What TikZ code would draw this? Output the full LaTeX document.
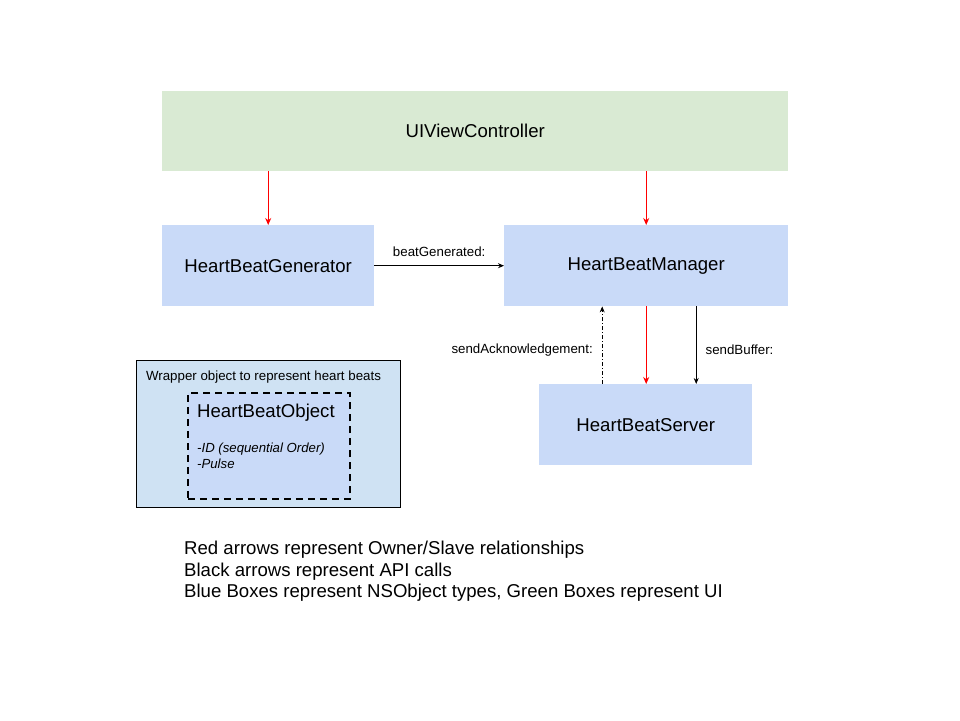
\documentclass[tikz,border=0pt]{standalone}
\usepackage{fontspec}
\setmainfont{Liberation Sans}
\usetikzlibrary{arrows.meta,calc}
\definecolor{uigreen}{HTML}{D9EAD3}
\definecolor{objblue}{HTML}{C9DAF8}
\definecolor{wrapblue}{HTML}{CFE2F3}
\definecolor{ownred}{HTML}{FF0000}
\tikzstyle{objbox} = [
    fill=objblue,
    rectangle,
    anchor=north west,
    inner sep=0pt,
    minimum width=212pt,
    minimum height=81pt,
    font=\fontsize{18.6}{22}\selectfont
    ]
\tikzstyle{owner} = [
    draw=ownred,
    line width=1pt,
    -{Stealth[length=7pt,width=6pt]}
    ]
\tikzstyle{apicall} = [
    draw=black,
    line width=0.9pt,
    -{Stealth[length=6pt,width=5pt]}
    ]
\tikzstyle{calllabel} = [
    font=\fontsize{13.3}{15}\selectfont,
    inner sep=0pt
    ]

\begin{document}
\begin{tikzpicture}[x=1pt,y=-1pt]
\useasboundingbox (0,0) rectangle (960,720);
% boxes
\node [objbox, fill=uigreen, minimum width=626pt, minimum height=80pt] (uivc) at (162,91) {UIViewController};
\node [objbox] (gen) at (162,225) {HeartBeatGenerator};
\node [objbox, minimum width=284pt] (mgr) at (504,225) {HeartBeatManager};
\node [objbox, minimum width=213pt] (srv) at (539,384) {HeartBeatServer};
% wrapper object
\node [draw=black, fill=wrapblue, line width=0.8pt, rectangle, anchor=north west,
       minimum width=264pt, minimum height=147pt, inner sep=0pt] (wrap) at (136,360) {};
\node [calllabel] (wraptitle) at (263.5,377) {Wrapper object to represent heart beats};
\node [draw=black, fill=objblue, line width=2pt, dash pattern=on 7pt off 5pt,
       rectangle, anchor=north west, minimum width=162pt, minimum height=106pt,
       inner sep=0pt] (hbo) at (187,392) {};
\node [anchor=west, inner sep=0pt, font=\fontsize{18.6}{22}\selectfont] (hbotitle) at (197,413) {HeartBeatObject};
\node [anchor=north west, inner sep=0pt, align=left,
       font=\fontsize{13.2}{16}\selectfont\itshape] (hbofields) at (197,443) {-ID (sequential Order)\\-Pulse};
% ownership
\draw [owner] (uivc.south -| gen) -- (gen);
\draw [owner] (uivc.south -| mgr) -- (mgr);
\draw [owner] (mgr.south) -- (mgr.south |- srv.north);
% api calls
\draw [apicall] (gen.east) -- (mgr.west)
    node [calllabel, midway, above=9pt] (beatlbl) {beatGenerated:};
\draw [apicall, dash pattern=on 4pt off 2pt on 1pt off 2pt] ($(srv.north)+(-43.5,0)$) -- ($(mgr.south)+(-44,0)$)
    node [calllabel, pos=0.44, left=9pt] (acklbl) {sendAcknowledgement:};
\draw [apicall] ($(mgr.south)+(50,0)$) -- ($(srv.north)+(50.5,0)$)
    node [calllabel, pos=0.56, right=9pt] (buflbl) {sendBuffer:};
% legend
\node [anchor=north west, inner sep=0pt, align=left,
       font=\fontsize{18.6}{21.5}\selectfont] (legend) at (184,541) {Red arrows represent Owner/Slave relationships\\
Black arrows represent API calls\\
Blue Boxes represent NSObject types, Green Boxes represent UI};
\end{tikzpicture}
\end{document}
